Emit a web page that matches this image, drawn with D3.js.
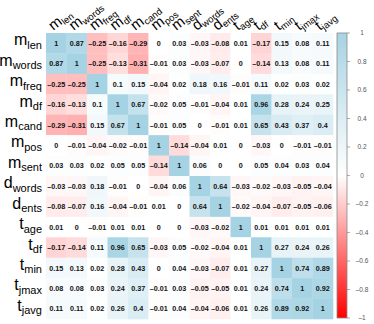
<!DOCTYPE html>
<html>
<head>
<meta charset="utf-8">
<script src="https://cdn.jsdelivr.net/npm/d3@7"></script>
<style>
  body { margin: 0; background: #fff; }
  svg { display: block; font-family: "Liberation Sans", Arial, sans-serif; }
</style>
</head>
<body>
<div id="chart"></div>
<script>
// variable names : main letter + subscript
const varMain = ["m", "m", "m", "m", "m", "m", "m", "d", "d", "t", "t", "t", "t", "t"];
const varSub = ["len", "words", "freq", "df", "cand", "pos", "sent", "words", "ents", "age", "df", "min", "jmax", "javg"];

// correlation matrix, one row per variable
const corr = [
  [1, 0.87, -0.25, -0.16, -0.29, 0, 0.03, -0.03, -0.08, 0.01, -0.17, 0.15, 0.08, 0.11],
  [0.87, 1, -0.25, -0.13, -0.31, -0.01, 0.03, -0.03, -0.07, 0, -0.14, 0.13, 0.08, 0.11],
  [-0.25, -0.25, 1, 0.1, 0.15, -0.04, 0.02, 0.18, 0.16, -0.01, 0.11, 0.02, 0.03, 0.02],
  [-0.16, -0.13, 0.1, 1, 0.67, -0.02, 0.05, -0.01, -0.04, 0.01, 0.96, 0.28, 0.24, 0.25],
  [-0.29, -0.31, 0.15, 0.67, 1, -0.01, 0.05, 0, -0.01, 0.01, 0.65, 0.43, 0.37, 0.4],
  [0, -0.01, -0.04, -0.02, -0.01, 1, -0.14, -0.04, 0.01, 0, -0.03, 0, -0.01, -0.01],
  [0.03, 0.03, 0.02, 0.05, 0.05, -0.14, 1, 0.06, 0, 0, 0.05, 0.04, 0.03, 0.04],
  [-0.03, -0.03, 0.18, -0.01, 0, -0.04, 0.06, 1, 0.64, -0.03, -0.02, -0.03, -0.05, -0.04],
  [-0.08, -0.07, 0.16, -0.04, -0.01, 0.01, 0, 0.64, 1, -0.02, -0.04, -0.07, -0.05, -0.06],
  [0.01, 0, -0.01, 0.01, 0.01, 0, 0, -0.03, -0.02, 1, 0.01, 0.01, 0.01, 0.01],
  [-0.17, -0.14, 0.11, 0.96, 0.65, -0.03, 0.05, -0.02, -0.04, 0.01, 1, 0.27, 0.24, 0.26],
  [0.15, 0.13, 0.02, 0.28, 0.43, 0, 0.04, -0.03, -0.07, 0.01, 0.27, 1, 0.74, 0.89],
  [0.08, 0.08, 0.03, 0.24, 0.37, -0.01, 0.03, -0.05, -0.05, 0.01, 0.24, 0.74, 1, 0.92],
  [0.11, 0.11, 0.02, 0.26, 0.4, -0.01, 0.04, -0.04, -0.06, 0.01, 0.26, 0.89, 0.92, 1]
];

const legendTicks = [1, 0.8, 0.6, 0.4, 0.2, 0, -0.2, -0.4, -0.6, -0.8, -1];

const width = 374, height = 324;
const grid = {left: 46, top: 33, right: 333, bottom: 319};

const svg = d3.select("#chart").append("svg")
  .attr("width", width)
  .attr("height", height);

const idx = d3.range(varSub.length);
const x = d3.scaleBand().domain(idx).range([grid.left, grid.right]);
const y = d3.scaleBand().domain(idx).range([grid.top, grid.bottom]);

const color = d3.scaleLinear()
  .domain([-1, 0, 1])
  .range(["#ff0000", "#ffffff", "#a6d3e3"]);

const fmt = v => String(v).replace("-", "\u2013");

// cells
const cells = [];
corr.forEach((row, i) => row.forEach((v, j) => cells.push({i, j, v})));

svg.append("g").selectAll("rect")
  .data(cells)
  .enter().append("rect")
  .attr("x", d => x(d.j))
  .attr("y", d => y(d.i))
  .attr("width", x.bandwidth() + 0.3)
  .attr("height", y.bandwidth() + 0.3)
  .attr("fill", d => color(d.v));

svg.append("g").selectAll("text")
  .data(cells)
  .enter().append("text")
  .attr("x", d => x(d.j) + x.bandwidth() / 2)
  .attr("y", d => y(d.i) + y.bandwidth() / 2 + 2.6)
  .attr("text-anchor", "middle")
  .attr("font-size", 7.2)
  .attr("font-weight", "bold")
  .attr("fill", "#111")
  .text(d => fmt(d.v));

// row labels
const rowLab = svg.append("g").selectAll("text")
  .data(idx)
  .enter().append("text")
  .attr("x", grid.left - 4)
  .attr("y", i => y(i) + y.bandwidth() / 2 + 2)
  .attr("text-anchor", "end")
  .attr("fill", "#000");
rowLab.append("tspan").attr("font-size", 16).text(i => varMain[i]);
rowLab.append("tspan").attr("font-size", 11).attr("dy", 3.5).text(i => varSub[i]);

// column labels, rotated
const colLab = svg.append("g").selectAll("text")
  .data(idx)
  .enter().append("text")
  .attr("transform", i => `translate(${x(i) + x.bandwidth() / 2 - 3},${grid.top - 2}) rotate(-38)`)
  .attr("text-anchor", "start")
  .attr("fill", "#000");
colLab.append("tspan").attr("font-size", 15).text(i => varMain[i]);
colLab.append("tspan").attr("font-size", 9.5).attr("dy", 2.5).text(i => varSub[i]);

// colour legend
const bar = {x: 337, w: 10, top: 33, bottom: 318};
const ly = d3.scaleLinear().domain([1, -1]).range([bar.top, bar.bottom]);

const grad = svg.append("defs").append("linearGradient")
  .attr("id", "cbar").attr("x1", 0).attr("x2", 0).attr("y1", 0).attr("y2", 1);
grad.selectAll("stop")
  .data(d3.range(1, -1.01, -0.1))
  .enter().append("stop")
  .attr("offset", d => (1 - d) / 2)
  .attr("stop-color", d => color(d));

svg.append("rect")
  .attr("x", bar.x).attr("y", bar.top)
  .attr("width", bar.w).attr("height", bar.bottom - bar.top)
  .attr("fill", "url(#cbar)")
  .attr("stroke", "#8a8a8a")
  .attr("stroke-width", 0.8);

const lt = svg.append("g").selectAll("g")
  .data(legendTicks)
  .enter().append("g");
lt.append("line")
  .attr("x1", bar.x + bar.w).attr("x2", bar.x + bar.w + 3)
  .attr("y1", d => ly(d)).attr("y2", d => ly(d))
  .attr("stroke", "#777").attr("stroke-width", 0.6);
lt.append("text")
  .attr("x", bar.x + bar.w + 15)
  .attr("y", d => ly(d) + 2.2)
  .attr("text-anchor", "middle")
  .attr("font-size", 6.5)
  .attr("fill", "#555")
  .text(d => fmt(d));
</script>
</body>
</html>
